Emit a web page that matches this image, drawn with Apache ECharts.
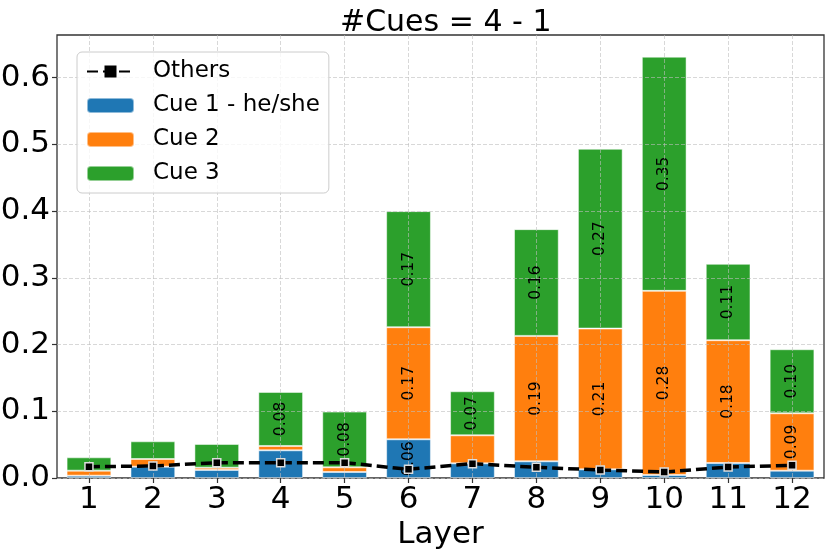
<!DOCTYPE html>
<html>
<head>
<meta charset="utf-8">
<script src="https://cdn.jsdelivr.net/npm/echarts@6/dist/echarts.min.js"></script>
<style>
html,body{margin:0;padding:0;background:#fff;}
#chart{width:830px;height:551px;}
</style>
</head>
<body>
<div id="chart"></div>
<script>
const layers = ['1','2','3','4','5','6','7','8','9','10','11','12'];
const cue1 = [0.0035, 0.017, 0.012, 0.0415, 0.009, 0.058, 0.022, 0.025, 0.013, 0.0045, 0.0225, 0.011];
const cue2 = [0.0075, 0.0115, 0.0035, 0.0065, 0.007, 0.168, 0.042, 0.188, 0.211, 0.276, 0.184, 0.086];
const cue3 = [0.020, 0.0265, 0.0355, 0.081, 0.0835, 0.174, 0.066, 0.160, 0.2695, 0.351, 0.1145, 0.096];
const others = [0.017, 0.018, 0.023, 0.023, 0.023, 0.013, 0.0215, 0.016, 0.012, 0.009, 0.0165, 0.019];
const yTicks = [0, 0.1, 0.2, 0.3, 0.4, 0.5, 0.6];

const FONT = 'DejaVu Sans';
const chart = echarts.init(document.getElementById('chart'), null, {renderer: 'canvas'});

function barLabel() {
  return {
    show: true,
    position: 'inside',
    rotate: 90,
    fontFamily: FONT,
    fontSize: 15.5,
    color: '#000',
    formatter: p => (p.value > 0.05 ? p.value.toFixed(2) : '')
  };
}
function barSeries(name, data, color) {
  return {
    name: name,
    type: 'bar',
    stack: 'total',
    data: data,
    barWidth: '70%',
    itemStyle: {color: color, borderColor: 'rgba(255,255,255,0.5)', borderWidth: 1},
    label: barLabel(),
    z: 2
  };
}

const option = {
  animation: false,
  backgroundColor: '#fff',
  title: {
    text: '#Cues = 4 - 1',
    left: 335,
    top: 3,
    textStyle: {fontFamily: FONT, fontSize: 30, fontWeight: 'normal', color: '#000'}
  },
  legend: {
    orient: 'vertical',
    left: 77,
    top: 52,
    data: [
      {name: 'Others', itemStyle: {borderWidth: 0}},
      'Cue 1 - he/she', 'Cue 2', 'Cue 3'
    ],
    itemWidth: 47,
    itemHeight: 15,
    itemGap: 11,
    padding: [8, 9, 8, 9],
    backgroundColor: 'rgba(255,255,255,0.8)',
    borderColor: '#cccccc',
    borderWidth: 1,
    borderRadius: 5,
    textStyle: {fontFamily: FONT, fontSize: 23, color: '#000', padding: [0, 0, 0, 14]}
  },
  grid: {
    left: 57, right: 6, top: 35, bottom: 73,
    outerBoundsMode: 'none',
    containLabel: false,
    show: true,
    borderColor: '#333',
    borderWidth: 1.3,
    backgroundColor: 'transparent'
  },
  xAxis: {
    type: 'category',
    data: layers,
    boundaryGap: true,
    z: 3,
    name: 'Layer',
    nameLocation: 'middle',
    nameGap: 34,
    nameTextStyle: {fontFamily: FONT, fontSize: 31, color: '#000'},
    axisLine: {show: false},
    axisTick: {show: true, alignWithLabel: true, length: 5, lineStyle: {color: '#333', width: 1.2}},
    axisLabel: {fontFamily: FONT, fontSize: 31, color: '#000', margin: 6},
    splitLine: {show: true, alignWithLabel: true, lineStyle: {color: 'rgba(190,190,190,0.6)', type: [4, 2], width: 1}}
  },
  yAxis: {
    type: 'value',
    min: 0,
    max: 0.664,
    interval: 0.1,
    z: 3,
    axisLine: {show: false},
    axisTick: {show: true, length: 5, customValues: yTicks, lineStyle: {color: '#333', width: 1.2}},
    axisLabel: {fontFamily: FONT, fontSize: 31, color: '#000', margin: 7, customValues: yTicks,
      formatter: v => v.toFixed(1)},
    splitLine: {show: true, lineStyle: {color: 'rgba(190,190,190,0.6)', type: [4, 2], width: 1}}
  },
  series: [
    {
      name: 'Others',
      type: 'line',
      data: others,
      z: 5,
      symbol: 'rect',
      symbolSize: 8,
      itemStyle: {color: '#000', borderColor: '#dddddd', borderWidth: 1.5},
      lineStyle: {color: '#000', width: 3.5, type: [11, 5]}
    },
    barSeries('Cue 1 - he/she', cue1, '#1f77b4'),
    barSeries('Cue 2', cue2, '#ff7f0e'),
    barSeries('Cue 3', cue3, '#2ca02c')
  ]
};
chart.setOption(option);
</script>
</body>
</html>
